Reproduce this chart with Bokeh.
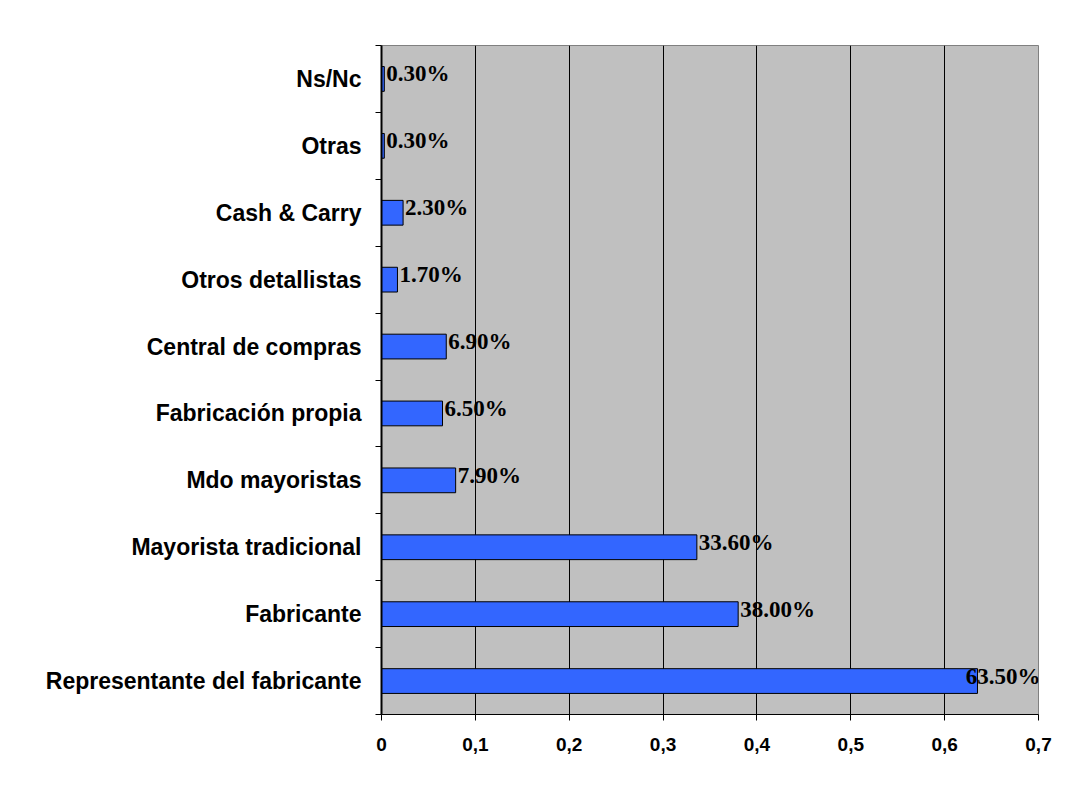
from bokeh.plotting import figure
from bokeh.models import FixedTicker, ColumnDataSource, Range1d
from bokeh.core.properties import value
from bokeh.embed import file_html
from bokeh.resources import INLINE

# Data (bottom to top as drawn)
categories = ["Representante del fabricante", "Fabricante", "Mayorista tradicional",
              "Mdo mayoristas", "Fabricación propia", "Central de compras",
              "Otros detallistas", "Cash & Carry", "Otras", "Ns/Nc"]
values = [0.635, 0.380, 0.336, 0.079, 0.065, 0.069, 0.017, 0.023, 0.003, 0.003]
value_labels = ["63.50%", "38.00%", "33.60%", "7.90%", "6.50%", "6.90%",
                "1.70%", "2.30%", "0.30%", "0.30%"]
x_ticks = [0, 0.1, 0.2, 0.3, 0.4, 0.5, 0.6, 0.7]
x_tick_labels = ["0", "0,1", "0,2", "0,3", "0,4", "0,5", "0,6", "0,7"]

X_MAX = 0.7
n = len(categories)
centers = [i + 0.5 for i in range(n)]
bounds = [float(i) for i in range(n + 1)]

label_align = ["right" if v + 0.075 > X_MAX else "left" for v in values]
label_x = [X_MAX if a == "right" else v for v, a in zip(values, label_align)]

src = ColumnDataSource(dict(y=centers, v=values, lab=value_labels,
                            lx=label_x, al=label_align))

p = figure(frame_width=657, frame_height=669, width=1076, height=791,
           x_range=Range1d(0, X_MAX), y_range=Range1d(0, n),
           output_backend="svg", toolbar_location=None,
           min_border_left=381, min_border_right=38,
           min_border_top=45, min_border_bottom=77)

p.background_fill_color = "#C0C0C0"
p.border_fill_color = "white"
p.outline_line_color = "#808080"
p.outline_line_width = 1

p.hbar(y="y", right="v", left=0, height=0.37, source=src,
       fill_color="#3366FF", line_color="black", line_width=1)

p.text(x="lx", y="y", text="lab", text_align="al", source=src,
       text_baseline="middle", x_offset=2, y_offset=-5,
       text_font=value("Liberation Serif"), text_font_style="bold",
       text_font_size="23px", text_color="black")

# X axis
p.xaxis.ticker = FixedTicker(ticks=x_ticks)
p.xaxis.major_label_overrides = dict(zip(x_ticks, x_tick_labels))
p.xaxis.major_label_text_font = "Liberation Sans"
p.xaxis.major_label_text_font_style = "bold"
p.xaxis.major_label_text_font_size = "19px"
p.xaxis.major_label_text_color = "black"
p.xaxis.major_tick_out = 6
p.xaxis.major_tick_in = 0
p.xaxis.minor_tick_out = 0
p.xaxis.minor_tick_in = 0
p.xaxis.axis_line_color = "black"
p.xaxis.major_tick_line_color = "black"
p.xaxis.major_label_standoff = 17

# Y axis: labels at centres, tick marks at boundaries
p.yaxis.ticker = FixedTicker(ticks=centers, minor_ticks=bounds)
p.yaxis.major_label_overrides = dict(zip(centers, categories))
p.yaxis.major_label_text_font = "Liberation Sans"
p.yaxis.major_label_text_font_style = "bold"
p.yaxis.major_label_text_font_size = "23px"
p.yaxis.major_label_text_color = "black"
p.yaxis.major_tick_out = 0
p.yaxis.major_tick_in = 0
p.yaxis.minor_tick_out = 6
p.yaxis.minor_tick_in = 0
p.yaxis.minor_tick_line_color = "black"
p.yaxis.axis_line_color = "black"
p.yaxis.axis_line_width = 2
p.yaxis.major_label_standoff = 14

p.xgrid.ticker = FixedTicker(ticks=x_ticks[1:-1])
p.xgrid.grid_line_color = "black"
p.xgrid.grid_line_width = 1
p.ygrid.grid_line_color = None

open("out.html", "w").write(file_html(p, INLINE))
